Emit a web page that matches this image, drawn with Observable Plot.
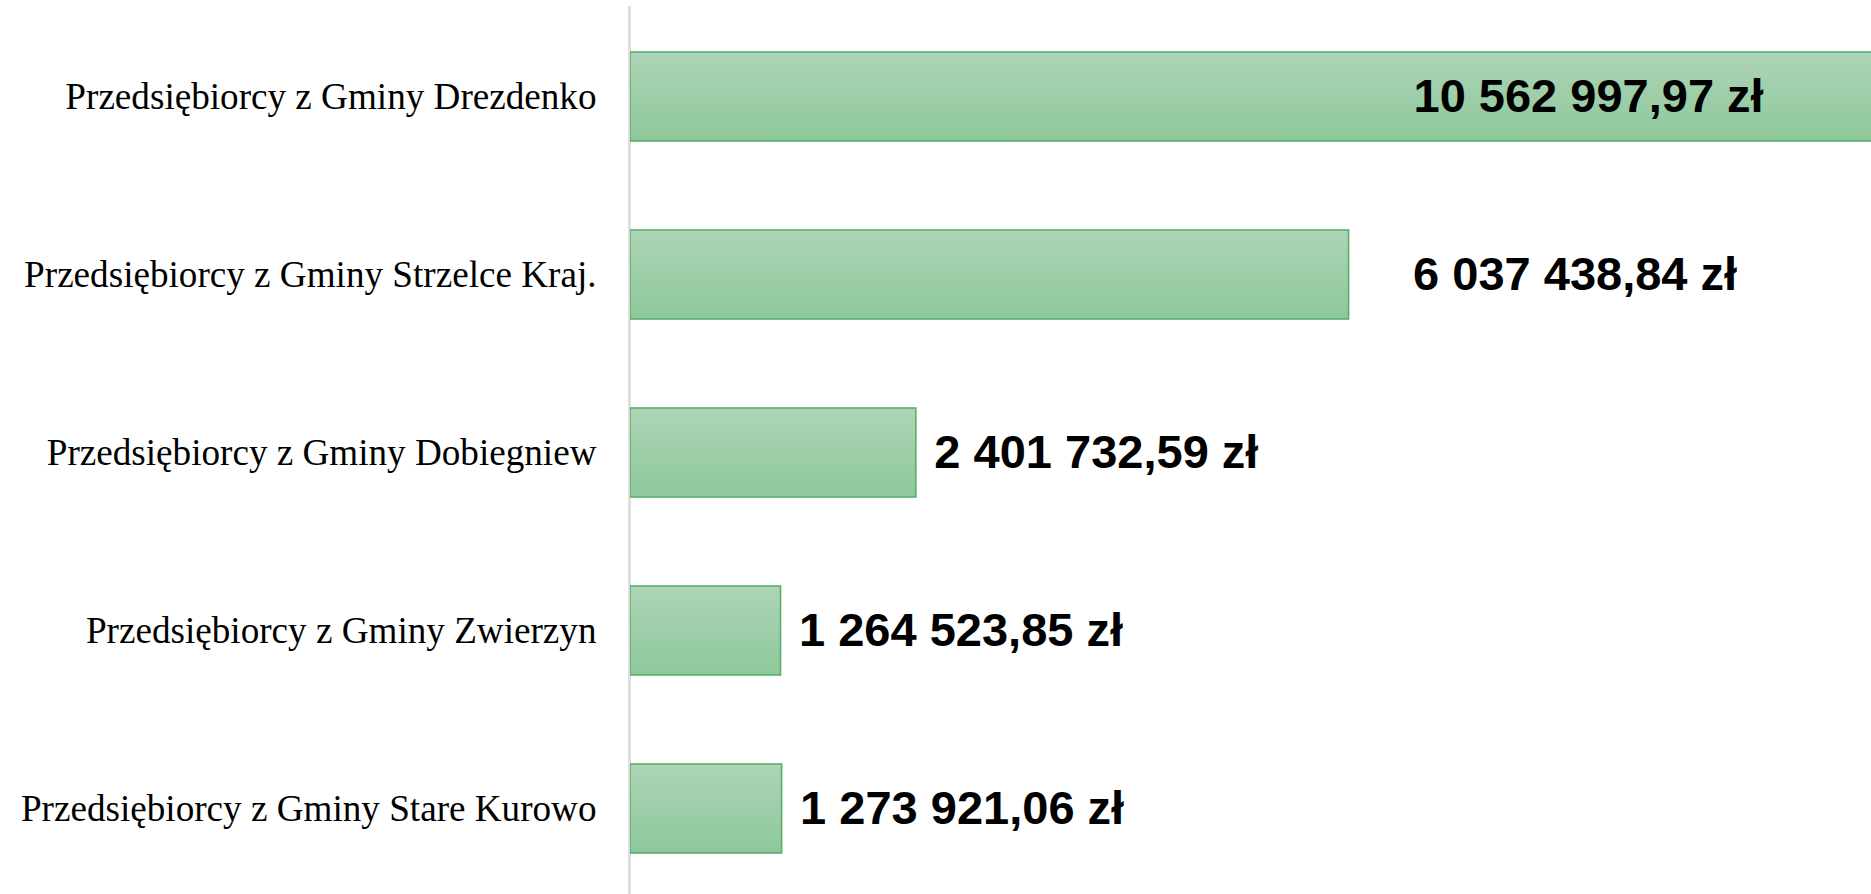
<!DOCTYPE html>
<html>
<head>
<meta charset="utf-8">
<script src="https://cdn.jsdelivr.net/npm/d3@7"></script>
<script src="https://cdn.jsdelivr.net/npm/@observablehq/plot@0.6"></script>
<style>
  html, body { margin: 0; padding: 0; background: #ffffff; overflow: hidden; }
  #chart svg { display: block; overflow: hidden; }
</style>
</head>
<body>
<div id="chart"></div>
<script>
// ---- data ----
const categories = [
  "Przedsiębiorcy z Gminy Drezdenko",
  "Przedsiębiorcy z Gminy Strzelce Kraj.",
  "Przedsiębiorcy z Gminy Dobiegniew",
  "Przedsiębiorcy z Gminy Zwierzyn",
  "Przedsiębiorcy z Gminy Stare Kurowo"
];
const values = [10562997.97, 6037438.84, 2401732.59, 1264523.85, 1273921.06];

// ---- formatting (Polish style: space thousands, comma decimals) ----
const pl = d3.formatLocale({decimal: ",", thousands: " ", grouping: [3], currency: ["", " zł"]});
const fmt = pl.format(",.2f");

const rows = categories.map((c, i) => ({category: c, value: values[i], label: fmt(values[i]) + " zł", i}));

const W = 1871, H = 894;
const valueFont = {fontFamily: "'Liberation Sans', Arial, sans-serif", fontWeight: "bold", fontSize: 47, fill: "#000"};

const chart = Plot.plot({
  width: W,
  height: H,
  marginLeft: 630,
  marginRight: 0,
  marginTop: 6,
  marginBottom: 0,
  style: {background: "#ffffff"},
  x: {domain: [0, 10427000], axis: null},
  y: {domain: categories, range: [6, 899], paddingInner: 0.5, paddingOuter: 0.25, axis: null},
  marks: [
    Plot.ruleX([0], {stroke: "#d9d9d9", strokeWidth: 2.5, dx: -1}),
    Plot.barX(rows, {
      x: "value", y: "category",
      fill: "url(#barGrad)", stroke: "#5aae6b", strokeWidth: 1.6,
      clip: true
    }),
    Plot.text(rows, {
      y: "category", text: "category", frameAnchor: "left", textAnchor: "end", dx: -34,
      fontFamily: "'Liberation Serif', 'Times New Roman', serif", fontSize: 37.15, fill: "#000"
    }),
    Plot.text(rows, {
      filter: d => d.i === 0, x: "value", y: "category", text: "label",
      textAnchor: "end", dx: -124, ...valueFont
    }),
    Plot.text(rows, {
      filter: d => d.i === 1, x: "value", y: "category", text: "label",
      textAnchor: "start", dx: 64, ...valueFont
    }),
    Plot.text(rows, {
      filter: d => d.i > 1, x: "value", y: "category", text: "label",
      textAnchor: "start", dx: 18, ...valueFont
    })
  ]
});

// vertical gradient for bar fill
const defs = d3.select(chart).insert("defs", ":first-child");
const grad = defs.append("linearGradient").attr("id", "barGrad")
  .attr("x1", 0).attr("y1", 0).attr("x2", 0).attr("y2", 1);
grad.append("stop").attr("offset", "0%").attr("stop-color", "#add4b6");
grad.append("stop").attr("offset", "100%").attr("stop-color", "#8ec89b");

document.getElementById("chart").appendChild(chart);
</script>
</body>
</html>
